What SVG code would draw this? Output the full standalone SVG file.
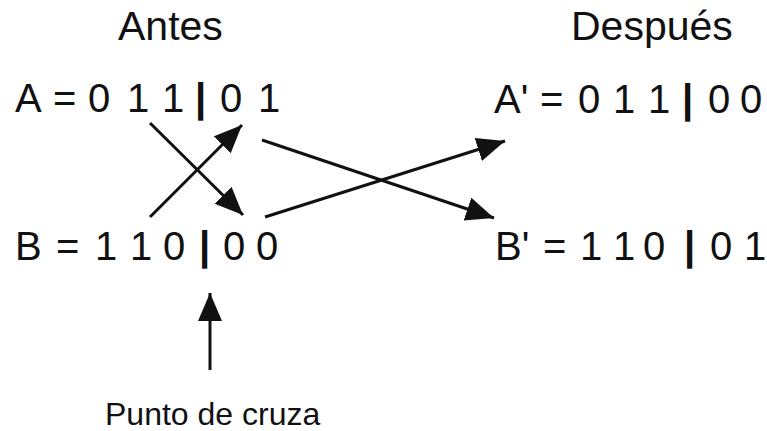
<svg xmlns="http://www.w3.org/2000/svg" width="767" height="431" viewBox="0 0 767 431">
<style>
.t{font-family:"Liberation Sans",Arial,sans-serif;fill:#111}
.big{font-size:41px}
.row{font-size:40px}
.bar{font-weight:bold}
.lbl{font-size:32px}
.c{stroke:#111;stroke-width:3;fill:none}
</style>
<defs>
<marker id="ah" markerUnits="userSpaceOnUse" markerWidth="32" markerHeight="28" refX="28" refY="12" orient="auto">
<path d="M0,0 L28,12 L0,24 Z" fill="#111"/>
</marker>
</defs>
<rect width="767" height="431" fill="#fff"/>
<g id="antes"><text class="t big" x="118" y="40">Antes</text></g>
<g id="despues"><text class="t big" x="571" y="40">Después</text></g>
<g id="A"><text class="t row" y="112"><tspan x="15">A</tspan> <tspan x="53">=</tspan> <tspan x="88">0</tspan> <tspan x="127">1</tspan> <tspan x="162">1</tspan> <tspan x="195" class="bar">|</tspan> <tspan x="220">0</tspan> <tspan x="258">1</tspan></text></g>
<g id="B"><text class="t row" y="260"><tspan x="15">B</tspan> <tspan x="56">=</tspan> <tspan x="95">1</tspan> <tspan x="130">1</tspan> <tspan x="163">0</tspan> <tspan x="199" class="bar">|</tspan> <tspan x="223">0</tspan> <tspan x="256">0</tspan></text></g>
<g id="A2"><text class="t row" y="113"><tspan x="494">A'</tspan> <tspan x="540">=</tspan> <tspan x="578">0</tspan> <tspan x="613">1</tspan> <tspan x="648">1</tspan> <tspan x="682" class="bar">|</tspan> <tspan x="708">0</tspan> <tspan x="740">0</tspan></text></g>
<g id="B2"><text class="t row" y="260"><tspan x="495">B'</tspan> <tspan x="543">=</tspan> <tspan x="580">1</tspan> <tspan x="613">1</tspan> <tspan x="643">0</tspan> <tspan x="684" class="bar">|</tspan> <tspan x="710">0</tspan> <tspan x="744">1</tspan></text></g>
<g id="punto"><text class="t lbl" x="105" y="425">Punto de cruza</text></g>
<g id="connectors">
<line class="c" x1="150" y1="123" x2="243" y2="215" marker-end="url(#ah)"/>
<line class="c" x1="150" y1="217" x2="242" y2="125" marker-end="url(#ah)"/>
<line class="c" x1="262" y1="140" x2="494" y2="218" marker-end="url(#ah)"/>
<line class="c" x1="265" y1="217" x2="505" y2="141" marker-end="url(#ah)"/>
<line class="c" x1="210" y1="370" x2="210" y2="293" marker-end="url(#ah)"/>
</g>
</svg>
